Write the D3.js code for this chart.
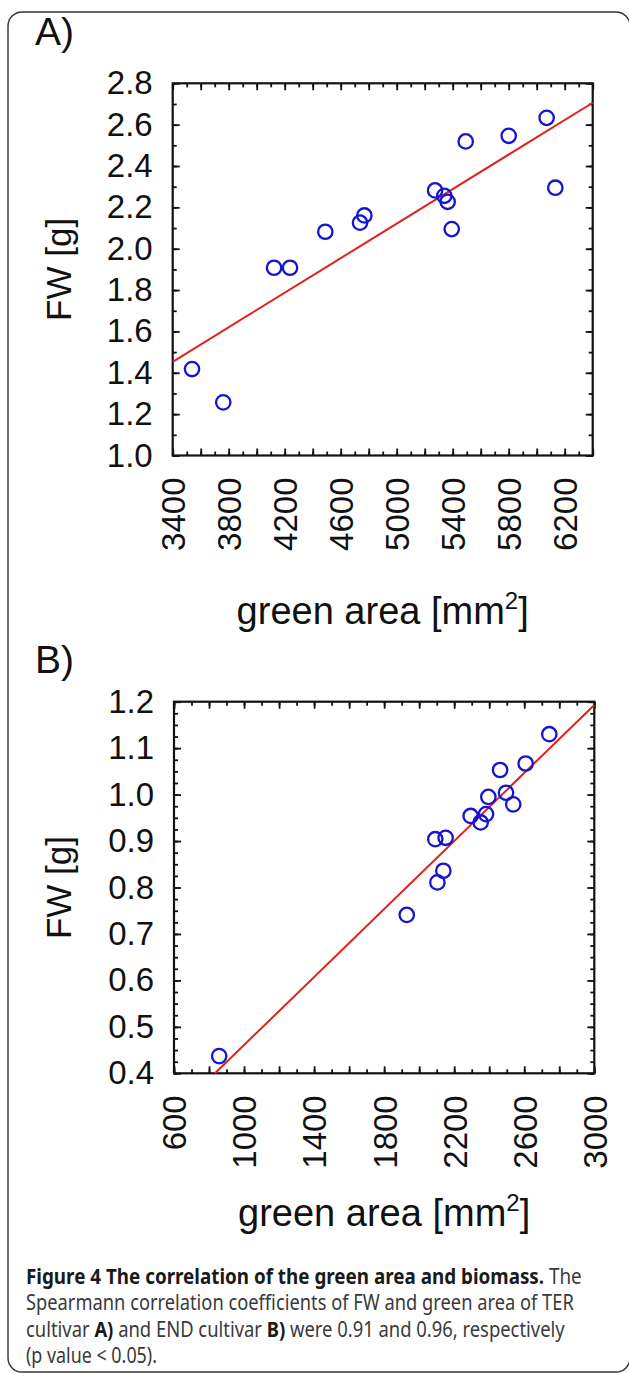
<!DOCTYPE html>
<html>
<head>
<meta charset="utf-8">
<script src="https://cdn.jsdelivr.net/npm/d3@7"></script>
<style>
  body { margin: 0; background: #fff; }
  svg { display: block; }
</style>
</head>
<body>
<svg id="fig" width="629" height="1373"></svg>
<script>
(function() {

    // panel A - TER cultivar (green area in mm2, fresh weight in g)
    var areaA = [3538, 3761, 4124, 4238, 4490, 4738, 4769, 5274, 5340, 5364, 5393, 5493, 5800, 6071, 6133]
    var fwA   = [1.418, 1.257, 1.908, 1.908, 2.082, 2.126, 2.161, 2.282, 2.256, 2.227, 2.095, 2.519, 2.546, 2.633, 2.295]
    var fitAreaA = [3400, 6400]
    var fitFwA   = [1.453, 2.706]
    var xTicksA = [3400, 3800, 4200, 4600, 5000, 5400, 5800, 6200]
    var yTicksA = [1.0, 1.2, 1.4, 1.6, 1.8, 2.0, 2.2, 2.4, 2.6, 2.8]

    // panel B - END cultivar
    var areaB = [858, 1929, 2104, 2138, 2092, 2151, 2294, 2351, 2382, 2395, 2537, 2496, 2462, 2608, 2743]
    var fwB   = [0.437, 0.741, 0.811, 0.836, 0.904, 0.907, 0.954, 0.940, 0.958, 0.995, 0.979, 1.004, 1.053, 1.067, 1.130]
    var fitAreaB = [834, 3000]
    var fitFwB   = [0.4, 1.193]
    var xTicksB = [600, 1000, 1400, 1800, 2200, 2600, 3000]
    var yTicksB = [0.4, 0.5, 0.6, 0.7, 0.8, 0.9, 1.0, 1.1, 1.2]

    var caption = [
        [["Figure 4 The correlation of the green area and biomass.", true], [" The", false]],
        [["Spearmann correlation coefficients of FW and green area of TER", false]],
        [["cultivar ", false], ["A)", true], [" and END cultivar ", false], ["B)", true], [" were 0.91 and 0.96, respectively", false]],
        [["(p value < 0.05).", false]]
    ]
    var captionWidths = [556, 548, 539, 131]

    var FONT = "'Liberation Sans', Arial, Helvetica, sans-serif"
    var svg = d3.select("#fig")

    // rounded figure box
    svg.append("rect")
        .attr("x", 8).attr("y", 12)
        .attr("width", 622).attr("height", 1360)
        .attr("rx", 14)
        .attr("fill", "none")
        .attr("stroke", "#333")
        .attr("stroke-width", 1.4)

    function panel(p) {
        var w = p.right - p.left, h = p.bottom - p.top
        var g = svg.append("g").attr("transform", "translate(" + p.left + "," + p.top + ")")

        var x = d3.scaleLinear().domain(p.xDomain).range([0, w])
        var y = d3.scaleLinear().domain(p.yDomain).range([h, 0])

        var xMajor = d3.range(p.xDomain[0], p.xDomain[1] + 1e-6, p.xMajor)
        var xMinor = d3.range(p.xDomain[0], p.xDomain[1] + 1e-6, p.xMinor)
        var yMajor = d3.range(0, Math.round((p.yDomain[1] - p.yDomain[0]) / p.yMajor) + 1).map(function(i) { return +(p.yDomain[0] + i * p.yMajor).toFixed(4) })
        var yMinor = d3.range(0, Math.round((p.yDomain[1] - p.yDomain[0]) / p.yMinor) + 1).map(function(i) { return +(p.yDomain[0] + i * p.yMinor).toFixed(4) })

        //inward ticks on all four sides
        function ticks(axisFn, scale, vals, size, tr) {
            var a = g.append("g").attr("transform", tr || null)
                .call(axisFn(scale).tickValues(vals).tickSize(-size).tickFormat(""))
            a.select(".domain").remove()
            a.selectAll(".tick line").attr("stroke", "#111").attr("stroke-width", 1.8)
            return a
        }
        ticks(d3.axisBottom, x, xMinor, 4, "translate(0," + h + ")")
        ticks(d3.axisBottom, x, xMajor, 7, "translate(0," + h + ")")
        ticks(d3.axisTop, x, xMinor, 4)
        ticks(d3.axisTop, x, xMajor, 7)
        ticks(d3.axisLeft, y, yMinor, 4)
        ticks(d3.axisLeft, y, yMajor, 7)
        ticks(d3.axisRight, y, yMinor, 4, "translate(" + w + ",0)")
        ticks(d3.axisRight, y, yMajor, 7, "translate(" + w + ",0)")

        // y tick labels
        var yl = g.append("g")
            .call(d3.axisLeft(y).tickValues(p.yTicks).tickSize(0).tickPadding(p.yPad).tickFormat(d3.format(".1f")))
        yl.select(".domain").remove()
        yl.selectAll("text").attr("font-family", FONT).attr("font-size", p.yFont).attr("fill", "#111")

        // x tick labels, rotated
        var xl = g.append("g").attr("transform", "translate(0," + h + ")")
            .call(d3.axisBottom(x).tickValues(p.xTicks).tickSize(0).tickFormat(d3.format("d")))
        xl.select(".domain").remove()
        xl.selectAll("text")
            .attr("font-family", FONT).attr("font-size", p.xFont).attr("fill", "#111")
            .attr("transform", "rotate(-90)")
            .attr("x", -p.xPad).attr("y", 0).attr("dy", "0.36em")
            .attr("text-anchor", "end")

        // frame
        g.append("rect").attr("width", w).attr("height", h)
            .attr("fill", "none").attr("stroke", "#111").attr("stroke-width", 2.2)

        // fitted line
        var line = d3.line().x(function(d) { return x(d[0]) }).y(function(d) { return y(d[1]) })
        g.append("path")
            .datum(d3.zip(p.fitX, p.fitY))
            .attr("d", line)
            .attr("fill", "none").attr("stroke", "#e3211c").attr("stroke-width", 2)

        // points
        g.append("g").selectAll("circle")
            .data(d3.zip(p.xs, p.ys))
            .join("circle")
            .attr("cx", function(d) { return x(d[0]) })
            .attr("cy", function(d) { return y(d[1]) })
            .attr("r", 7.2)
            .attr("fill", "none")
            .attr("stroke", "#1414d2")
            .attr("stroke-width", 2.3)

        // axis titles
        svg.append("text")
            .attr("transform", "translate(" + p.yTitleX + "," + (p.top + h / 2) + ") rotate(-90)")
            .attr("text-anchor", "middle")
            .attr("font-family", FONT).attr("font-size", 35).attr("fill", "#111")
            .text("FW [g]")

        var xt = svg.append("text")
            .attr("x", p.left + w / 2).attr("y", p.xTitleY)
            .attr("text-anchor", "middle")
            .attr("font-family", FONT).attr("font-size", 38).attr("fill", "#111")
        xt.append("tspan").text("green area [mm")
        xt.append("tspan").attr("font-size", 24).attr("dy", "-0.62em").text("2")
        xt.append("tspan").attr("dy", "0.4em").text("]")

        svg.append("text")
            .attr("x", 35).attr("y", p.letterY)
            .attr("font-family", FONT).attr("font-size", 39).attr("fill", "#111")
            .text(p.letter)
    }

    panel({
        letter: "A)", letterY: 45,
        left: 172.7, right: 592.7, top: 83.3, bottom: 455.5,
        xDomain: [3400, 6400], yDomain: [1.0, 2.8],
        xMajor: 200, xMinor: 100, yMajor: 0.2, yMinor: 0.1,
        xTicks: xTicksA, yTicks: yTicksA,
        xs: areaA, ys: fwA, fitX: fitAreaA, fitY: fitFwA,
        yFont: 33, xFont: 33, yPad: 20, xPad: 22,
        yTitleX: 71, xTitleY: 624
    })

    panel({
        letter: "B)", letterY: 673,
        left: 174, right: 594.3, top: 701.7, bottom: 1073.3,
        xDomain: [600, 3000], yDomain: [0.4, 1.2],
        xMajor: 200, xMinor: 100, yMajor: 0.1, yMinor: 0.025,
        xTicks: xTicksB, yTicks: yTicksB,
        xs: areaB, ys: fwB, fitX: fitAreaB, fitY: fitFwB,
        yFont: 33, xFont: 33, yPad: 20, xPad: 22,
        yTitleX: 71, xTitleY: 1226
    })

    // caption, each line squeezed horizontally to the width it has in the figure
    caption.forEach(function(parts, i) {
        var yb = 1284 + i * 26.3
        var t = svg.append("text")
            .attr("x", 0).attr("y", 0)
            .attr("font-family", "'Noto Sans', 'Open Sans', sans-serif")
            .attr("font-size", 21)
            .attr("fill", "#3a3a3a")
        parts.forEach(function(pt) {
            t.append("tspan")
                .attr("font-weight", pt[1] ? "bold" : null)
                .attr("fill", pt[1] ? "#1a1a1a" : null)
                .text(pt[0])
        })
        var len = t.node().getComputedTextLength()
        t.attr("transform", "translate(26," + yb + ") scale(" + (captionWidths[i] / len) + ",1)")
    })
})();
</script>
</body>
</html>
